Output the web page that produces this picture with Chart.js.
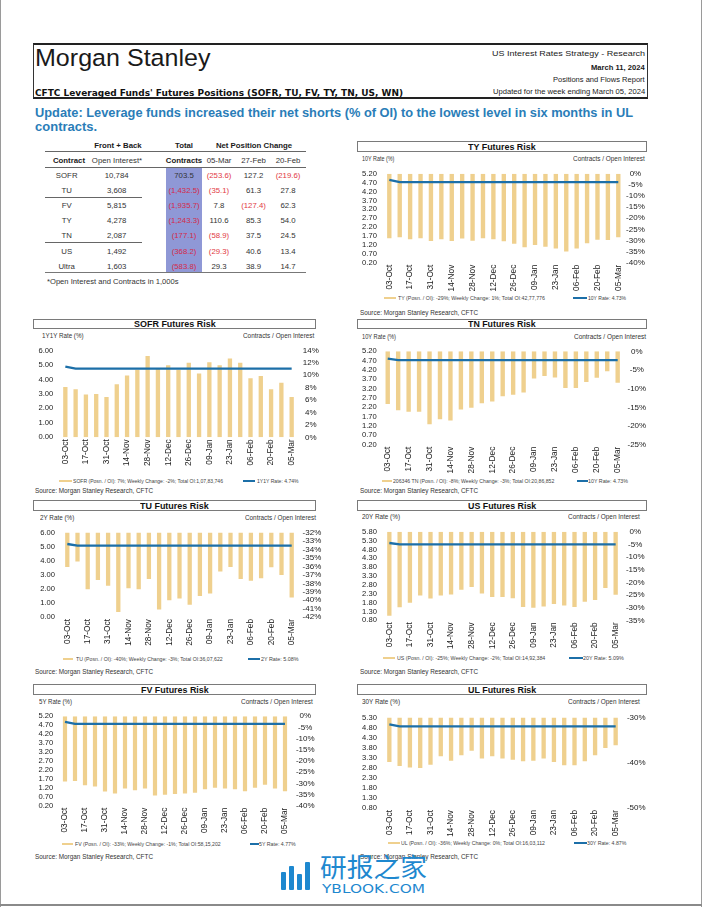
<!DOCTYPE html>
<html><head><meta charset="utf-8">
<script src="https://cdn.jsdelivr.net/npm/chart.js@4.4.1/dist/chart.umd.min.js"></script>
<style>
html,body{margin:0;padding:0;background:#fff;}
#page{position:relative;width:702px;height:907px;overflow:hidden;font-family:'Liberation Sans',Arial,Helvetica,sans-serif;color:#1a1a1a;background:#fff;}
.t{position:absolute;white-space:nowrap;display:inline-block;}
.box{position:absolute;box-sizing:border-box;}
canvas{position:absolute;}
</style></head><body><div id="page"></div>
<script>
// ---------------- DATA ----------------
const weeks = ['03-Oct','10-Oct','17-Oct','24-Oct','31-Oct','07-Nov','14-Nov','21-Nov','28-Nov','05-Dec','12-Dec','19-Dec','26-Dec','02-Jan','09-Jan','16-Jan','23-Jan','30-Jan','06-Feb','13-Feb','20-Feb','27-Feb','05-Mar'];

const tyPosn = [-29.0,-28.5,-29.5,-29.0,-30.2,-29.4,-30.2,-29.1,-30.1,-29.0,-29.4,-30.4,-31.5,-33.0,-32.0,-32.8,-33.6,-35.0,-33.6,-31.2,-29.7,-29.8,-28.5];
const tyRate = [4.86,4.73,4.73,4.73,4.73,4.73,4.73,4.73,4.73,4.73,4.73,4.73,4.73,4.73,4.73,4.73,4.73,4.73,4.73,4.73,4.73,4.73,4.73];
const tyLeftTicks = [0.20,0.70,1.20,1.70,2.20,2.70,3.20,3.70,4.20,4.70,5.20];
const tyRightTicks = [-40,-35,-30,-25,-20,-15,-10,-5,0];

const sofrPosn = [8.1,7.75,6.9,7.0,6.5,8.55,9.95,10.9,13.1,11.0,11.6,10.9,12.0,10.3,12.1,11.6,12.7,12.0,9.5,9.9,7.75,8.8,6.5];
const sofrRate = [4.88,4.74,4.74,4.74,4.74,4.74,4.74,4.74,4.74,4.74,4.74,4.74,4.74,4.74,4.74,4.74,4.74,4.74,4.74,4.74,4.74,4.74,4.74];
const sofrLeftTicks = [0,1,2,3,4,5,6];
const sofrRightTicks = [0,2,4,6,8,10,12,14];

const tnPosn = [-14.1,-15.8,-16.2,-16.2,-19.5,-18.2,-18.5,-15.6,-15.1,-13.9,-13.4,-12.0,-11.6,-11.0,-7.3,-6.6,-7.0,-9.8,-9.8,-8.2,-7.1,-5.3,-8.4];
const tnRate = [4.81,4.73,4.73,4.73,4.73,4.73,4.73,4.73,4.73,4.73,4.73,4.73,4.73,4.73,4.73,4.73,4.73,4.73,4.73,4.73,4.73,4.73,4.73];
const tnLeftTicks = [0.20,0.70,1.20,1.70,2.20,2.70,3.20,3.70,4.20,4.70,5.20];
const tnRightTicks = [-25,-20,-15,-10,-5,0];

const tuPosn = [-36.05,-35.4,-38.7,-37.6,-38.3,-41.4,-38.6,-38.7,-37.5,-41.1,-40.0,-39.8,-40.55,-39.5,-39.2,-36.6,-36.05,-37.5,-37.7,-37.4,-36.1,-37.0,-39.7];
const tuRate = [5.20,5.08,5.08,5.08,5.08,5.08,5.08,5.08,5.08,5.08,5.08,5.08,5.08,5.08,5.08,5.08,5.08,5.08,5.08,5.08,5.08,5.08,5.08];
const tuLeftTicks = [0,1,2,3,4,5,6];
const tuRightTicks = [-42,-41,-40,-39,-38,-37,-36,-35,-34,-33,-32];

const usPosn = [-33.2,-29.8,-28.1,-25.2,-26.4,-25.2,-24.8,-22.9,-21.8,-24.4,-25.8,-25.8,-26.3,-29.7,-30.0,-29.5,-28.5,-29.1,-29.7,-27.7,-27.0,-22.2,-24.9];
const usRate = [5.17,5.09,5.09,5.09,5.09,5.09,5.09,5.09,5.09,5.09,5.09,5.09,5.09,5.09,5.09,5.09,5.09,5.09,5.09,5.09,5.09,5.09,5.09];
const usLeftTicks = [0.80,1.30,1.80,2.30,2.80,3.30,3.80,4.30,4.80,5.30,5.80];
const usRightTicks = [-35,-30,-25,-20,-15,-10,-5,0];

const fvPosn = [-29.2,-28.9,-30.9,-31.4,-33.7,-34.5,-32.3,-33.1,-32.3,-35.4,-35.1,-34.8,-34.5,-34.2,-32.6,-32.0,-32.3,-32.6,-33.5,-32.0,-30.6,-32.3,-33.5];
const fvRate = [4.88,4.77,4.77,4.77,4.77,4.77,4.77,4.77,4.77,4.77,4.77,4.77,4.77,4.77,4.77,4.77,4.77,4.77,4.77,4.77,4.77,4.77,4.77];
const fvLeftTicks = [0.20,0.70,1.20,1.70,2.20,2.70,3.20,3.70,4.20,4.70,5.20];
const fvRightTicks = [-40,-35,-30,-25,-20,-15,-10,-5,0];

const ulPosn = [-39.8,-40.7,-41.0,-41.1,-40.4,-38.5,-39.5,-38.3,-37.3,-39.0,-38.5,-39.0,-39.3,-39.6,-39.5,-39.0,-39.8,-40.5,-40.5,-39.6,-38.3,-36.7,-36.1];
const ulRate = [4.97,4.87,4.87,4.87,4.87,4.87,4.87,4.87,4.87,4.87,4.87,4.87,4.87,4.87,4.87,4.87,4.87,4.87,4.87,4.87,4.87,4.87,4.87];
const ulLeftTicks = [0.80,1.30,1.80,2.30,2.80,3.30,3.80,4.30,4.80,5.30];
const ulRightTicks = [-50,-40,-30];

// table
const tableContracts = ['SOFR','TU','FV','TY','TN','US','Ultra'];
const openInterest = ['10,784','3,608','5,815','4,278','2,087','1,492','1,603'];
const totalContracts = [703.5,-1432.5,-1935.7,-1243.3,-177.1,-368.2,-583.8];
const chg05Mar = [-253.6,-35.1,7.8,110.6,-58.9,-29.3,29.3];
const chg27Feb = [127.2,61.3,-127.4,85.3,37.5,40.6,38.9];
const chg20Feb = [-219.6,27.8,62.3,54.0,24.5,13.4,14.7];

// ---------------- HELPERS ----------------
const GOLD = '#EFD08E', BLUE = '#1C6FA8', RED = '#E23A44';
const page = document.getElementById('page');
function T(text, o){
  const d = document.createElement('div'); d.className='t'; d.textContent=text;
  d.style.fontSize=o.size+'px'; d.style.lineHeight=(o.size*1.2)+'px';
  if(o.bold) d.style.fontWeight='bold';
  d.style.color = o.color || '#1a1a1a';
  if(o.family) d.style.fontFamily=o.family;
  d.style.top=(o.yc - o.size*0.6)+'px';
  page.appendChild(d);
  const w = d.getBoundingClientRect().width;
  if(o.x2 !== undefined){
    d.style.left=o.x1+'px'; d.style.transformOrigin='0 0'; d.style.transform='scaleX('+((o.x2-o.x1)/w)+')';
  } else if(o.xc !== undefined){ d.style.left=(o.xc-w/2)+'px'; }
  else if(o.xr !== undefined){ d.style.left=(o.xr-w)+'px'; }
  else d.style.left=o.x1+'px';
  return d;
}
function B(x1,y1,x2,y2,st){
  const d=document.createElement('div'); d.className='box';
  d.style.left=x1+'px'; d.style.top=y1+'px'; d.style.width=(x2-x1)+'px'; d.style.height=(y2-y1)+'px';
  Object.assign(d.style, st||{}); page.appendChild(d); return d;
}

// ---------------- PAGE FRAME / HEADER ----------------
B(0,0,1,907,{background:'#9a9a9a'});
B(701,0,702,907,{background:'#9a9a9a'});
B(0,904,702,906,{background:'#8a8a8a'});
B(33,43,648,99,{borderTop:'2px solid #222',borderBottom:'2px solid #222',borderLeft:'1px solid #333',borderRight:'1px solid #333'});
T('Morgan Stanley',{x1:35,x2:210.5,yc:57.5,size:24.5});
T('US Interest Rates Strategy - Research',{x1:491.6,x2:644.7,yc:53.3,size:8});
T('March 11, 2024',{x1:591,x2:644.7,yc:67.5,size:7.5,bold:true});
T('Positions and Flows Report',{x1:553,x2:644.7,yc:80.5,size:7.3});
T('Updated for the week ending March 05, 2024',{x1:492.5,x2:644.7,yc:92.5,size:7.3});
T("CFTC Leveraged Funds' Futures Positions (SOFR, TU, FV, TY, TN, US, WN)",{x1:35,x2:403,yc:93,size:9,bold:true,family:"'DejaVu Sans',Verdana,sans-serif",color:'#111'});
T('Update: Leverage funds increased their net shorts (% of OI) to the lowest level in six months in UL',{x1:35,x2:633,yc:113.5,size:12.5,bold:true,color:'#2A7DB8'});
T('contracts.',{x1:35,x2:97.2,yc:127.5,size:12.5,bold:true,color:'#2A7DB8'});

// ---------------- TABLE ----------------
const fmt = v => { const s=Math.abs(v).toLocaleString('en-US',{minimumFractionDigits:1,maximumFractionDigits:1}); return v<0?'('+s+')':s; };
B(165.7,167,202.3,271.7,{background:'#8F98D6'});
B(45,151,306,152,{background:'#666'});
B(45,166.5,306,167.5,{background:'#666'});
B(45,197,141.7,198,{background:'#666'});
B(45,242,141.7,243,{background:'#666'});
B(45,272,306,273,{background:'#777'});
const TS = 7.8;
T('Front + Back',{xc:118,yc:145.7,size:TS,bold:true});
T('Total',{xc:184,yc:145.7,size:TS,bold:true});
T('Net Position Change',{xc:254,yc:145.7,size:TS,bold:true});
T('Contract',{xc:69,yc:160.7,size:TS,bold:true});
T('Open Interest*',{xc:117,yc:160.7,size:TS,color:'#333'});
T('Contracts',{xc:184,yc:160.7,size:TS,bold:true});
T('05-Mar',{xc:219,yc:160.7,size:TS,color:'#333'});
T('27-Feb',{xc:253.5,yc:160.7,size:TS,color:'#333'});
T('20-Feb',{xc:288,yc:160.7,size:TS,color:'#333'});
const rowY = [176,191,206,221,236,251.3,266.7];
tableContracts.forEach((c,i)=>{
  const y=rowY[i];
  T(c,{xc:66.7,yc:y,size:TS,color:'#333'});
  T(openInterest[i],{xc:116.7,yc:y,size:TS,color:'#333'});
  [[totalContracts,184],[chg05Mar,219],[chg27Feb,253.5],[chg20Feb,288]].forEach(([arr,x])=>{
    const v=arr[i];
    T(fmt(v),{xc:x,yc:y,size:TS,color:v<0?(x===184?'#D42A4A':RED):'#333'});
  });
});
T('*Open Interest and Contracts in 1,000s',{x1:46.7,x2:178.3,yc:281,size:7.5,color:'#333'});

// ---------------- CHARTS ----------------
Chart.defaults.font.family = "'Liberation Sans', Arial, sans-serif";
const charts = [
 {title:'TY Futures Risk', tw:67.7, box:[357,647,141,152], lt:'10Y Rate (%)', ltx:[362,394.3], rtx:[573.3,645], aty:159,
  posn:tyPosn, rate:tyRate, lTicks:tyLeftTicks, rTicks:tyRightTicks,
  pt:168.3,pb:262.7,pl:384.1,pr:623.5,lp:7.2,rp:2.6, cl:350, cw:302,
  leg:['TY (Posn. / OI): -29%; Weekly Change: 1%; Total OI:42,77,776','10Y Rate: 4.73%'], legy:298.3, sw1:[384,396], t1:[398,545], sw2:[573,587], t2:[588,626], src:[360,312.7]},
 {title:'SOFR Futures Risk', tw:81.7, box:[33.3,316,318.7,329.5], lt:'1Y1Y Rate (%)', ltx:[41.7,83.3], rtx:[242.7,314], aty:336,
  posn:sofrPosn, rate:sofrRate, lTicks:sofrLeftTicks, rTicks:sofrRightTicks,
  pt:344.7,pb:437.3,pl:60.2,pr:296.8,lp:6.9,rp:6.0, cl:26, cw:300,
  leg:['SOFR (Posn. / OI): 7%; Weekly Change: -2%; Total OI:1,07,83,746','1Y1Y Rate: 4.74%'], legy:481.3, sw1:[59.3,71.7], t1:[73.3,223.3], sw2:[242.7,255], t2:[256.7,298.3], src:[35,491]},
 {title:'TN Futures Risk', tw:67.7, box:[357,647,318.7,329], lt:'10Y Rate (%)', ltx:[362,396], rtx:[574,646], aty:337.3,
  posn:tnPosn, rate:tnRate, lTicks:tnLeftTicks, rTicks:tnRightTicks,
  pt:346.7,pb:444.7,pl:382.5,pr:622.9,lp:5.8,rp:4.6, cl:350, cw:302,
  leg:['206346 TN (Posn. / OI): -8%; Weekly Change: -3%; Total OI:20,86,852','10Y Rate: 4.73%'], legy:481.3, sw1:[381.7,391.7], t1:[392.7,554], sw2:[576.7,588.3], t2:[588.3,628.3], src:[360,491]},
 {title:'TU Futures Risk', tw:68.7, box:[33.3,316,500,511], lt:'2Y Rate (%)', ltx:[40,74.3], rtx:[245,316], aty:518.3,
  posn:tuPosn, rate:tuRate, lTicks:tuLeftTicks, rTicks:tuRightTicks,
  pt:527.3,pb:617,pl:62.2,pr:296.8,lp:7.2,rp:5.8, cl:26, cw:300,
  leg:['TU (Posn. / OI): -40%; Weekly Change: -3%; Total OI:36,07,622','2Y Rate: 5.08%'], legy:659, sw1:[62.7,73.3], t1:[76,222.7], sw2:[248.3,260], t2:[260.7,298.3], src:[35,672.3]},
 {title:'US Futures Risk', tw:68.3, box:[357,647,500,511], lt:'20Y Rate (%)', ltx:[362,400], rtx:[568.3,640], aty:517.3,
  posn:usPosn, rate:usRate, lTicks:usLeftTicks, rTicks:usRightTicks,
  pt:525.7,pb:620.3,pl:384.2,pr:620.8,lp:7.3,rp:5.1, cl:350, cw:302,
  leg:['US (Posn. / OI): -25%; Weekly Change: -2%; Total OI:14,92,384','20Y Rate: 5.09%'], legy:658.3, sw1:[383.3,395], t1:[396.7,545], sw2:[569.3,583.3], t2:[583.3,624], src:[360,672.3]},
 {title:'FV Futures Risk', tw:67.7, box:[33.3,316,684,694.7], lt:'5Y Rate (%)', ltx:[39,72], rtx:[241,312.7], aty:702,
  posn:fvPosn, rate:fvRate, lTicks:fvLeftTicks, rTicks:fvRightTicks,
  pt:710.7,pb:805.7,pl:60,pr:290,lp:6.7,rp:5.9, cl:26, cw:300,
  leg:['FV (Posn. / OI): -33%; Weekly Change: -1%; Total OI:58,15,202','5Y Rate: 4.77%'], legy:843.7, sw1:[61.7,73.3], t1:[75,220.7], sw2:[250,259.3], t2:[259.3,296], src:[35,857]},
 {title:'UL Futures Risk', tw:68.3, box:[357,647,684,694.7], lt:'30Y Rate (%)', ltx:[362,400], rtx:[568.3,640], aty:702,
  posn:ulPosn, rate:ulRate, lTicks:ulLeftTicks, rTicks:ulRightTicks,
  pt:712,pb:808,pl:384.2,pr:620.8,lp:7.3,rp:6.1, cl:350, cw:302,
  leg:['UL (Posn. / OI): -36%; Weekly Change: 0%; Total OI:16,03,112','30Y Rate: 4.87%'], legy:842.7, sw1:[388.3,400], t1:[401,545], sw2:[574,587.3], t2:[587.3,626.7], src:[360,857]}
];

function makeChart(c){
  B(c.box[0],c.box[2],c.box[1],c.box[3],{border:'1px solid #7a7a7a',background:'#fff'});
  const cx=(c.box[0]+c.box[1])/2, cy=(c.box[2]+c.box[3])/2;
  T(c.title,{x1:cx-c.tw/2,x2:cx+c.tw/2,yc:cy,size:9.5,bold:true,color:'#111'});
  T(c.lt,{x1:c.ltx[0],x2:c.ltx[1],yc:c.aty,size:6.5,color:'#333'});
  T('Contracts / Open Interest',{x1:c.rtx[0],x2:c.rtx[1],yc:c.aty,size:6.5,color:'#333'});
  const CT=Math.round(c.pt)-6, padTop=c.pt-CT, plotH=c.pb-c.pt;
  const H=Math.round(padTop+plotH+32), XH=H-padTop-plotH;
  const LW=c.pl-c.cl, RW=c.cl+c.cw-c.pr;
  const cv=document.createElement('canvas');
  cv.width=c.cw; cv.height=H; cv.style.left=c.cl+'px'; cv.style.top=CT+'px';
  cv.style.width=c.cw+'px'; cv.style.height=H+'px';
  page.appendChild(cv);
  const lt=c.lTicks, rt=c.rTicks;
  new Chart(cv,{
    type:'bar',
    data:{labels:weeks, datasets:[
      {type:'line', label:c.leg[1], data:c.rate, yAxisID:'y', borderColor:BLUE, backgroundColor:BLUE, borderWidth:2.3, pointRadius:0, tension:0, fill:false, order:0},
      {type:'bar', label:c.leg[0], data:c.posn, yAxisID:'y1', backgroundColor:GOLD, barPercentage:0.42, categoryPercentage:1, order:1}
    ]},
    options:{
      responsive:false, animation:false, devicePixelRatio:1,
      layout:{padding:{top:padTop,left:0,right:0,bottom:0}},
      plugins:{legend:{display:false}, tooltip:{enabled:false}},
      scales:{
        x:{grid:{display:false,drawTicks:false}, border:{display:false},
           ticks:{autoSkip:false,minRotation:90,maxRotation:90,padding:2,color:'#222',font:{size:8.3},
             callback:function(v,i){return i%2===0?this.getLabelForValue(v):'';}},
           afterFit:s=>{s.height=XH;}},
        y:{position:'left', min:lt[0], max:lt[lt.length-1],
           afterBuildTicks:s=>{s.ticks=lt.map(v=>({value:v}));},
           grid:{display:false,drawTicks:false}, border:{display:false},
           ticks:{autoSkip:false,padding:c.lp,color:'#222',font:{size:7.6},callback:v=>Number(v).toFixed(2)},
           afterFit:s=>{s.width=LW;}},
        y1:{position:'right', min:rt[0], max:rt[rt.length-1],
           afterBuildTicks:s=>{s.ticks=rt.map(v=>({value:v}));},
           grid:{display:false,drawTicks:false}, border:{display:false},
           ticks:{autoSkip:false,crossAlign:'center',padding:c.rp,color:'#222',font:{size:8},callback:v=>v+'%'},
           afterFit:s=>{s.width=RW;}}
      }
    }
  });
  B(c.sw1[0],c.legy-1,c.sw1[1],c.legy+1,{background:GOLD});
  T(c.leg[0],{x1:c.t1[0],x2:c.t1[1],yc:c.legy,size:5,color:'#444'});
  B(c.sw2[0],c.legy-1.2,c.sw2[1],c.legy+1.2,{background:BLUE});
  T(c.leg[1],{x1:c.t2[0],x2:c.t2[1],yc:c.legy,size:5,color:'#444'});
  T('Source: Morgan Stanley Research, CFTC',{x1:c.src[0],x2:c.src[0]+118,yc:c.src[1],size:6.6,color:'#333'});
}
charts.forEach(makeChart);

// ---------------- WATERMARK ----------------
const WM='#1E88CF';
[[281,872,5],[289,866,5],[297,874,5],[305,862,5]].forEach(([x,top,w])=>B(x,top,x+w,890,{background:WM,borderRadius:'1px'}));
T('研报之家',{x1:320,x2:427,yc:865.5,size:26,color:WM,family:"'Noto Sans CJK SC',sans-serif"});
T('YBLOOK.COM',{x1:322,x2:425,yc:888.5,size:12.5,color:WM,family:"'DejaVu Sans',sans-serif"});
</script></body></html>
